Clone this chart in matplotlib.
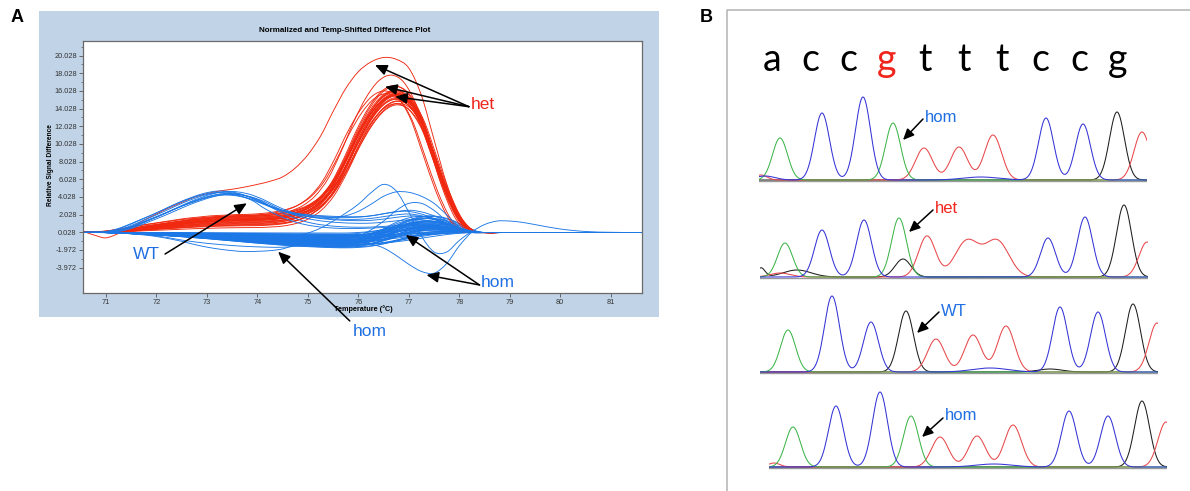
import numpy as np
import matplotlib
matplotlib.use("Agg")
import matplotlib.pyplot as plt
from matplotlib.path import Path
from matplotlib.patches import PathPatch, Rectangle
from matplotlib.lines import Line2D
from matplotlib.ticker import FixedLocator

plt.rcParams["font.family"] = ["Liberation Sans", "DejaVu Sans"]

# ---------------------------------------------------------------- panel A data
# Temperature grid (deg C) shared by all difference profiles
T_GRID = [70.6, 70.8, 71.0, 71.25, 71.5, 71.75, 72.0, 72.25, 72.5, 72.75,
          73.0, 73.25, 73.5, 73.75, 74.0, 74.25, 74.5, 74.75, 75.0, 75.25,
          75.5, 75.75, 76.0, 76.25, 76.5, 76.75, 77.0, 77.25, 77.5, 77.75,
          78.0, 78.25, 78.5, 78.75, 79.0, 79.25, 79.5, 80.0, 80.5, 81.0, 81.5]

# heterozygote profile = shoulder component + melting component
HET_SHOULDER = [0.03, 0.03, 0.05, 0.15, 0.3, 0.5, 0.65, 0.8, 0.95, 1.1,
                1.2, 1.3, 1.35, 1.4, 1.42, 1.45, 1.5, 1.5, 1.5, 1.5,
                1.5, 1.5, 1.45, 1.4, 1.3, 1.2, 1.1, 0.9, 0.7, 0.45,
                0.2, 0.02, 0, 0, 0, 0, 0, 0, 0, 0, 0]
HET_MELT = [0, 0, 0, 0, 0, 0, 0, 0, 0, 0,
            0, 0, 0, 0, 0, 0.05, 0.15, 0.45, 1.0, 2.0,
            3.7, 6.3, 9.35, 11.9, 13.7, 14.4, 13.8, 11.7, 7.9, 4.15,
            1.4, 0.15, 0, 0, 0, 0, 0, 0, 0, 0, 0]
# per-sample (shoulder scale, melt scale, temperature shift)
HET_SAMPLES = [(0.40, 0.97, 0.02), (0.55, 1.00, -0.01), (0.65, 0.98, 0.03),
               (0.75, 1.02, 0.00), (0.85, 0.96, 0.04), (0.95, 1.01, -0.02),
               (1.00, 0.99, 0.01), (1.05, 1.03, -0.03), (1.10, 0.97, 0.03),
               (1.15, 1.02, 0.00), (1.20, 1.00, -0.02), (1.25, 0.95, 0.04),
               (1.30, 1.04, -0.01), (1.35, 0.98, 0.02), (0.70, 1.05, -0.03),
               (0.90, 0.94, 0.05), (1.05, 1.00, 0.05), (0.80, 1.01, -0.04),
               (1.40, 0.96, -0.01), (0.60, 1.03, 0.02), (1.12, 1.06, -0.04),
               (0.98, 0.93, 0.00), (1.28, 1.13, -0.10), (1.35, 1.00, -0.22),
               (1.45, 0.97, -0.18)]
HET_HIGH = [0.03, -0.35, -0.6, -0.1, 0.6, 1.4, 2.1, 2.8, 3.4, 4.0,
            4.4, 4.7, 4.9, 5.15, 5.45, 5.8, 6.3, 7.3, 8.8, 10.9,
            13.7, 16.3, 18.2, 19.3, 19.8, 19.6, 18.6, 15.5, 10.5, 5.5,
            1.9, 0.2, 0, 0, 0, 0, 0, 0, 0, 0, 0]

# wild type profile = early hump + late tail
WT_HUMP = [0.03, 0.03, 0.05, 0.3, 0.8, 1.4, 2.0, 2.65, 3.3, 3.85,
           4.3, 4.55, 4.5, 4.2, 3.65, 2.6, 1.8, 1.1, 0.6, 0.3,
           0.12, 0.03, 0, 0, 0, 0, 0, 0, 0, 0,
           0, 0, 0, 0, 0, 0, 0, 0, 0, 0, 0]
WT_TAIL = [0, 0, 0, 0, 0, 0, 0, 0, 0, 0,
           0, 0, 0, 0, 0, 0.4, 0.65, 0.95, 1.2, 1.35,
           1.43, 1.47, 1.5, 1.6, 1.8, 2.0, 2.1, 1.9, 1.5, 0.95,
           0.4, 0.05, 0, 0, 0, 0, 0, 0, 0, 0, 0]
# per-sample (hump scale, tail scale, temperature shift)
WT_SAMPLES = [(1.00, 1.00, 0.00), (0.97, 0.40, 0.08), (1.03, 1.15, -0.06),
              (0.95, 0.70, 0.15), (1.02, 0.90, 0.12), (0.99, 0.30, -0.10),
              (0.93, 1.20, 0.04)]

# homozygote profile = negative drift + late hump
HOM_DRIFT = [0.03, 0.02, 0.0, -0.03, -0.08, -0.13, -0.18, -0.24, -0.3, -0.37,
             -0.44, -0.52, -0.6, -0.68, -0.76, -0.83, -0.9, -0.96, -1.0, -1.04,
             -1.07, -1.08, -1.08, -1.05, -0.98, -0.86, -0.7, -0.52, -0.34, -0.18,
             -0.06, 0.0, 0, 0, 0, 0, 0, 0, 0, 0, 0]
HOM_HUMP = [0, 0, 0, 0, 0, 0, 0, 0, 0, 0,
            0, 0, 0, 0, 0, 0, 0, 0, 0, 0,
            0, 0, 0.1, 0.3, 0.65, 1.05, 1.35, 1.45, 1.3, 0.95,
            0.45, 0.05, 0, 0, 0, 0, 0, 0, 0, 0, 0]
# per-sample (drift scale, hump scale, temperature shift)
HOM_SAMPLES = [(0.05, 0.6, 0.0), (0.15, 0.9, 0.05), (0.25, 0.3, -0.05), (0.3, 1.2, 0.1),
               (0.35, 0.5, 0.0), (0.4, 0.8, -0.08), (0.45, 1.0, 0.06), (0.5, 0.2, 0.02),
               (0.55, 1.3, -0.04), (0.6, 0.7, 0.08), (0.65, 0.9, -0.1), (0.7, 0.4, 0.04),
               (0.75, 1.1, 0.0), (0.8, 0.6, -0.06), (0.85, 1.4, 0.1), (0.9, 0.3, 0.03),
               (0.95, 0.8, -0.02), (1.0, 1.0, 0.07), (1.05, 0.5, -0.09), (1.1, 1.2, 0.01),
               (1.15, 0.7, 0.05), (1.2, 0.9, -0.03), (1.25, 0.2, 0.09), (1.3, 1.1, -0.07),
               (1.35, 0.6, 0.0), (1.4, 0.8, 0.04), (1.45, 1.3, -0.05), (1.5, 0.4, 0.06),
               (1.55, 1.0, -0.01), (0.2, 0.0, 0.0), (0.5, 0.0, 0.05), (0.9, 0.1, -0.05),
               (1.2, 0.0, 0.02), (0.7, 1.5, 0.12), (1.0, 1.6, -0.12), (0.4, 1.45, 0.15),
               (0.6, 0.95, 0.0), (0.8, 1.15, 0.03), (1.1, 0.85, -0.04), (0.3, 0.65, 0.08),
               (1.6, 0.5, 0.02), (1.45, 0.9, -0.02), (1.3, 0.3, 0.05), (0.95, 1.25, 0.0)]

HOM_LOW_A = [0.03, 0.02, 0.0, -0.05, -0.15, -0.27, -0.45, -0.7, -1.0, -1.35,
             -1.65, -1.88, -2.05, -2.15, -2.12, -2.05, -1.85, -1.4, -1.05, -0.95,
             -0.9, -0.85, -0.8, -0.7, -0.5, -0.2, 0.2, 0.5, 0.6, 0.5,
             0.2, 0.0, 0, 0, 0, 0, 0, 0, 0, 0, 0]
HOM_LOW_B = [0.03, 0.02, 0.0, -0.05, -0.12, -0.22, -0.38, -0.6, -0.85, -1.05,
             -1.22, -1.35, -1.47, -1.56, -1.62, -1.66, -1.66, -1.55, -1.4, -1.3,
             -1.2, -1.15, -1.1, -1.0, -0.8, -0.5, -0.1, 0.3, 0.45, 0.4,
             0.15, 0.0, 0, 0, 0, 0, 0, 0, 0, 0, 0]
HOM_DIP = [0.03, 0.02, 0.0, -0.03, -0.08, -0.13, -0.18, -0.24, -0.3, -0.37,
           -0.44, -0.5, -0.56, -0.62, -0.68, -0.74, -0.8, -0.85, -0.9, -0.95,
           -1.0, -1.05, -1.12, -1.3, -1.75, -2.6, -3.6, -4.4, -4.6, -3.5,
           -1.5, 0.05, 0.9, 1.3, 1.3, 1.15, 0.9, 0.4, 0.12, 0.03, 0.0]
HOM_PEAK_A = [0.03, 0.02, 0.0, -0.03, -0.08, -0.13, -0.18, -0.24, -0.3, -0.37,
              -0.44, -0.5, -0.55, -0.6, -0.62, -0.6, -0.5, -0.3, -0.05, 0.5,
              1.3, 2.2, 3.2, 4.5, 5.45, 4.7, 2.3, -0.4, -2.2, -2.2,
              -0.9, 0.05, 0, 0, 0, 0, 0, 0, 0, 0, 0]
HOM_PEAK_B = [0.03, 0.03, 0.05, 0.25, 0.7, 1.25, 1.8, 2.4, 3.0, 3.5,
              4.0, 4.3, 4.3, 4.0, 3.5, 2.9, 2.4, 2.05, 1.85, 1.75,
              1.7, 1.9, 2.4, 3.2, 4.1, 4.6, 4.55, 4.1, 3.3, 2.0,
              0.6, 0.05, 0, 0, 0, 0, 0, 0, 0, 0, 0]
HOM_PEAK_C = [0.03, 0.02, 0.0, -0.03, -0.07, -0.11, -0.15, -0.2, -0.25, -0.3,
              -0.36, -0.42, -0.48, -0.54, -0.6, -0.65, -0.7, -0.74, -0.78, -0.8,
              -0.8, -0.7, -0.4, 0.3, 1.3, 2.5, 3.3, 3.3, 2.5, 1.3,
              0.35, 0.0, 0, 0, 0, 0, 0, 0, 0, 0, 0]

Y_TICKS = [20.028, 18.028, 16.028, 14.028, 12.028, 10.028, 8.028, 6.028,
           4.028, 2.028, 0.028, -1.972, -3.972]
X_TICKS = [71, 72, 73, 74, 75, 76, 77, 78, 79, 80, 81]

# ---------------------------------------------------------------- panel B data
SEQUENCE = ["a", "c", "c", "g", "t", "t", "t", "c", "c", "g"]
VARIANT_INDEX = 3

# chromatogram peaks: (channel, scan position, height, width)
TRACE_HOM_1 = [("G", 21, 42, 7.5), ("B", 63, 67, 7.5), ("B", 104, 83, 7.5),
               ("G", 134, 57, 7.5), ("R", 165, 32, 8.5), ("R", 200, 33, 8.5),
               ("R", 234, 45, 8.5), ("B", 287, 62, 7.5), ("B", 324, 56, 7.5),
               ("K", 358, 68, 7.5), ("R", 383, 48, 8.0),
               ("B", 222, 3, 18), ("R", 2, 5, 6), ("B", 6, 4, 10)]
TRACE_HET = [("G", 25, 34, 7.5), ("B", 62, 47, 7.5), ("B", 104, 57, 7.5),
             ("G", 139, 59, 7.5), ("K", 143, 18, 8.0), ("R", 167, 41, 8.5),
             ("R", 207, 36, 12), ("R", 237, 36, 12), ("B", 288, 39, 7.5),
             ("B", 325, 60, 7.5), ("K", 364, 72, 7.5), ("R", 387, 35, 8.0),
             ("K", 37, 7, 14), ("R", 20, 4, 10), ("K", 1, 9, 4)]
TRACE_WT = [("G", 28, 42, 7.5), ("B", 72, 76, 7.5), ("B", 111, 50, 7.5),
            ("K", 146, 61, 7.5), ("R", 176, 33, 8.5), ("R", 213, 37, 8.5),
            ("R", 246, 46, 8.5), ("B", 300, 65, 7.5), ("B", 338, 60, 7.5),
            ("K", 373, 68, 7.5), ("R", 397, 49, 8.0),
            ("B", 230, 4, 18), ("K", 290, 3, 12)]
TRACE_HOM_2 = [("G", 24, 40, 7.5), ("B", 67, 61, 7.5), ("B", 111, 75, 7.5),
               ("G", 142, 51, 7.5), ("R", 171, 30, 8.5), ("R", 208, 31, 8.5),
               ("R", 244, 42, 8.5), ("B", 300, 56, 7.5), ("B", 339, 51, 7.5),
               ("K", 373, 66, 7.5), ("R", 397, 45, 8.0),
               ("B", 225, 3, 18), ("R", 5, 4, 6)]

# ---------------------------------------------------------------- styling
W, H = 1190, 491
RED = "#f0280f"
BLUE = "#1c78e6"
LABEL_RED = "#f0261c"
LABEL_BLUE = "#1f6fe3"
CHANNEL_COLORS = {"G": "#3db54a", "B": "#3434d6", "R": "#e8474a", "K": "#1e1e1e"}

fig = plt.figure(figsize=(W / 100, H / 100), dpi=100)
fig.patch.set_facecolor("white")


def box(x0, y0, x1, y1):
    return [x0 / W, 1 - y1 / H, (x1 - x0) / W, (y1 - y0) / H]


def fx(x):
    return x / W


def fy(y):
    return 1 - y / H


def smooth_curve(ax, x, y, **kw):
    """Draw a smooth Catmull-Rom style curve through the given points."""
    pts = np.column_stack([np.asarray(x, float), np.asarray(y, float)])
    ext = np.vstack([pts[0], pts, pts[-1]])
    verts = [pts[0]]
    codes = [Path.MOVETO]
    for i in range(len(pts) - 1):
        p0, p1, p2, p3 = ext[i], ext[i + 1], ext[i + 2], ext[i + 3]
        verts += [p1 + (p2 - p0) / 6.0, p2 - (p3 - p1) / 6.0, p2]
        codes += [Path.CURVE4] * 3
    ax.add_patch(PathPatch(Path(verts, codes), fill=False, capstyle="round",
                           joinstyle="round", **kw))


# ---------------------------------------------------------------- panel A
fig.add_artist(Rectangle((fx(39), fy(317)), 620 / W, 306 / H,
                         transform=fig.transFigure, facecolor="#c1d4e7",
                         edgecolor="none", zorder=-1))

axA = fig.add_axes(box(83, 41, 642, 293))
axA.set_facecolor("white")
axA.set_xlim(70.544, 81.62)
axA.set_ylim(-6.84, 21.67)

T = np.array(T_GRID)
lw_a = 0.65

# homozygote bundle
drift = np.array(HOM_DRIFT)
hump = np.array(HOM_HUMP)
for ds, hs, sh in HOM_SAMPLES:
    smooth_curve(axA, T + sh, ds * drift + hs * hump, edgecolor=BLUE, lw=lw_a)

# heterozygote bundle
shoulder = np.array(HET_SHOULDER)
melt = np.array(HET_MELT)
for ss, ms, sh in HET_SAMPLES:
    smooth_curve(axA, T + sh, ss * shoulder + ms * melt, edgecolor=RED, lw=lw_a)
smooth_curve(axA, T, HET_HIGH, edgecolor=RED, lw=lw_a)

# wild type and remaining homozygote traces
wt_hump = np.array(WT_HUMP)
wt_tail = np.array(WT_TAIL)
for hs, ts, sh in WT_SAMPLES:
    smooth_curve(axA, T + sh, hs * wt_hump + ts * wt_tail, edgecolor=BLUE, lw=lw_a)
for prof in (HOM_LOW_A, HOM_LOW_B, HOM_DIP, HOM_PEAK_A, HOM_PEAK_B, HOM_PEAK_C):
    smooth_curve(axA, T, prof, edgecolor=BLUE, lw=lw_a)

axA.set_yticks(Y_TICKS)
axA.set_yticklabels([f"{v:.3f}" for v in Y_TICKS])
axA.yaxis.set_minor_locator(FixedLocator([v + 1.0 for v in Y_TICKS]))
axA.set_xticks(X_TICKS)
axA.set_xticklabels([str(v) for v in X_TICKS])
axA.tick_params(axis="both", which="major", direction="out", length=3,
                width=0.6, color="#555555", labelsize=5.3, labelcolor="#333333",
                pad=1.5)
axA.tick_params(axis="y", which="minor", direction="out", length=1.6,
                width=0.5, color="#555555")
for sp in axA.spines.values():
    sp.set_color("#6a6a6a")
    sp.set_linewidth(0.9)

fig.text(fx(345), fy(30), "Normalized and Temp-Shifted Difference Plot",
         ha="center", va="center", fontsize=5.8, fontweight="bold")
fig.text(fx(50), fy(165), "Relative Signal Difference", rotation=90,
         ha="center", va="center", fontsize=4.8, fontweight="bold")
fig.text(fx(363), fy(309), "Temperature (\u00b0C)", ha="center", va="center",
         fontsize=5.2, fontweight="bold")

arrow_kw = dict(arrowstyle="-|>,head_length=0.6,head_width=0.27", color="black",
                lw=1.1, shrinkA=0, shrinkB=0, mutation_scale=12)


def arrow(ax, tail, tip):
    ax.annotate("", xy=tip, xytext=tail, xycoords="data", textcoords="data",
                arrowprops=arrow_kw, annotation_clip=False)


het_tail = (78.19, 14.24)
for tip in [(76.33, 18.95), (76.53, 16.5), (76.73, 15.37)]:
    arrow(axA, het_tail, tip)
axA.text(78.47, 14.54, "het", color=LABEL_RED, fontsize=12.5, ha="center",
         va="center", clip_on=False)

arrow(axA, (72.17, -2.43), (73.79, 3.31))
axA.text(71.81, -2.43, "WT", color=LABEL_BLUE, fontsize=12.5, ha="center",
         va="center", clip_on=False)

hom_tail = (78.40, -5.93)
for tip in [(76.94, -0.28), (77.35, -4.80)]:
    arrow(axA, hom_tail, tip)
axA.text(78.77, -5.6, "hom", color=LABEL_BLUE, fontsize=12.5, ha="center",
         va="center", clip_on=False)

arrow(axA, (75.83, -10.0), (74.41, -2.17))
axA.text(76.23, -11.14, "hom", color=LABEL_BLUE, fontsize=12.5, ha="center",
         va="center", clip_on=False)

fig.text(fx(17), fy(18), "A", ha="center", va="center", fontsize=13,
         fontweight="bold")

# ---------------------------------------------------------------- panel B
fig.text(fx(706), fy(18), "B", ha="center", va="center", fontsize=13,
         fontweight="bold")
fig.add_artist(Line2D([fx(727), fx(727), fx(1190)], [fy(491), fy(10), fy(10)],
                      transform=fig.transFigure, color="#b3b3b3", lw=1.1))

for i, base in enumerate(SEQUENCE):
    fig.text(fx(771.7 + i * 38.4), fy(71), base, ha="center", va="baseline",
             fontsize=27, family=["Lato", "DejaVu Sans"],
             color=("#f0261c" if i == VARIANT_INDEX else "black"))

traces = [
    (TRACE_HOM_1, 759, 1147, 180, "hom", LABEL_BLUE, (144, 40), (164, 61), (166, 62)),
    (TRACE_HET, 760, 1148, 277, "het", LABEL_RED, (149, 45), (173, 67), (175, 68)),
    (TRACE_WT, 760, 1158, 372, "WT", LABEL_BLUE, (157, 39), (179, 60), (181, 61)),
    (TRACE_HOM_2, 769, 1167, 467, "hom", LABEL_BLUE, (153, 30), (174, 49), (176, 52)),
]

for peaks, x0, x1, yb, lab, lab_col, tip, tail, txt in traces:
    ax = fig.add_axes(box(x0, yb - 95, x1, yb + 3))
    span = x1 - x0
    ax.set_xlim(0, span)
    ax.set_ylim(-3, 95)
    ax.axis("off")
    scan = np.linspace(0, span, 900)
    ax.plot([0, span], [-0.6, -0.6], color="#9a9a9a", lw=1.0, zorder=1)
    for ch in ["K", "R", "G", "B"]:
        sig = np.zeros_like(scan)
        for c, pos, h, w in peaks:
            if c == ch:
                sig += h * np.exp(-0.5 * ((scan - pos) / w) ** 2)
        ax.plot(scan, sig, color=CHANNEL_COLORS[ch], lw=0.75, zorder=2)
    ax.annotate("", xy=tip, xytext=tail, arrowprops=dict(
        arrowstyle="-|>,head_length=0.6,head_width=0.27", color="black", lw=1.1,
        shrinkA=0, shrinkB=0, mutation_scale=11), annotation_clip=False)
    ax.text(txt[0], txt[1], lab, color=lab_col, fontsize=12, ha="left",
            va="center", clip_on=False)

fig.savefig("out.png", dpi=100, facecolor="white")
